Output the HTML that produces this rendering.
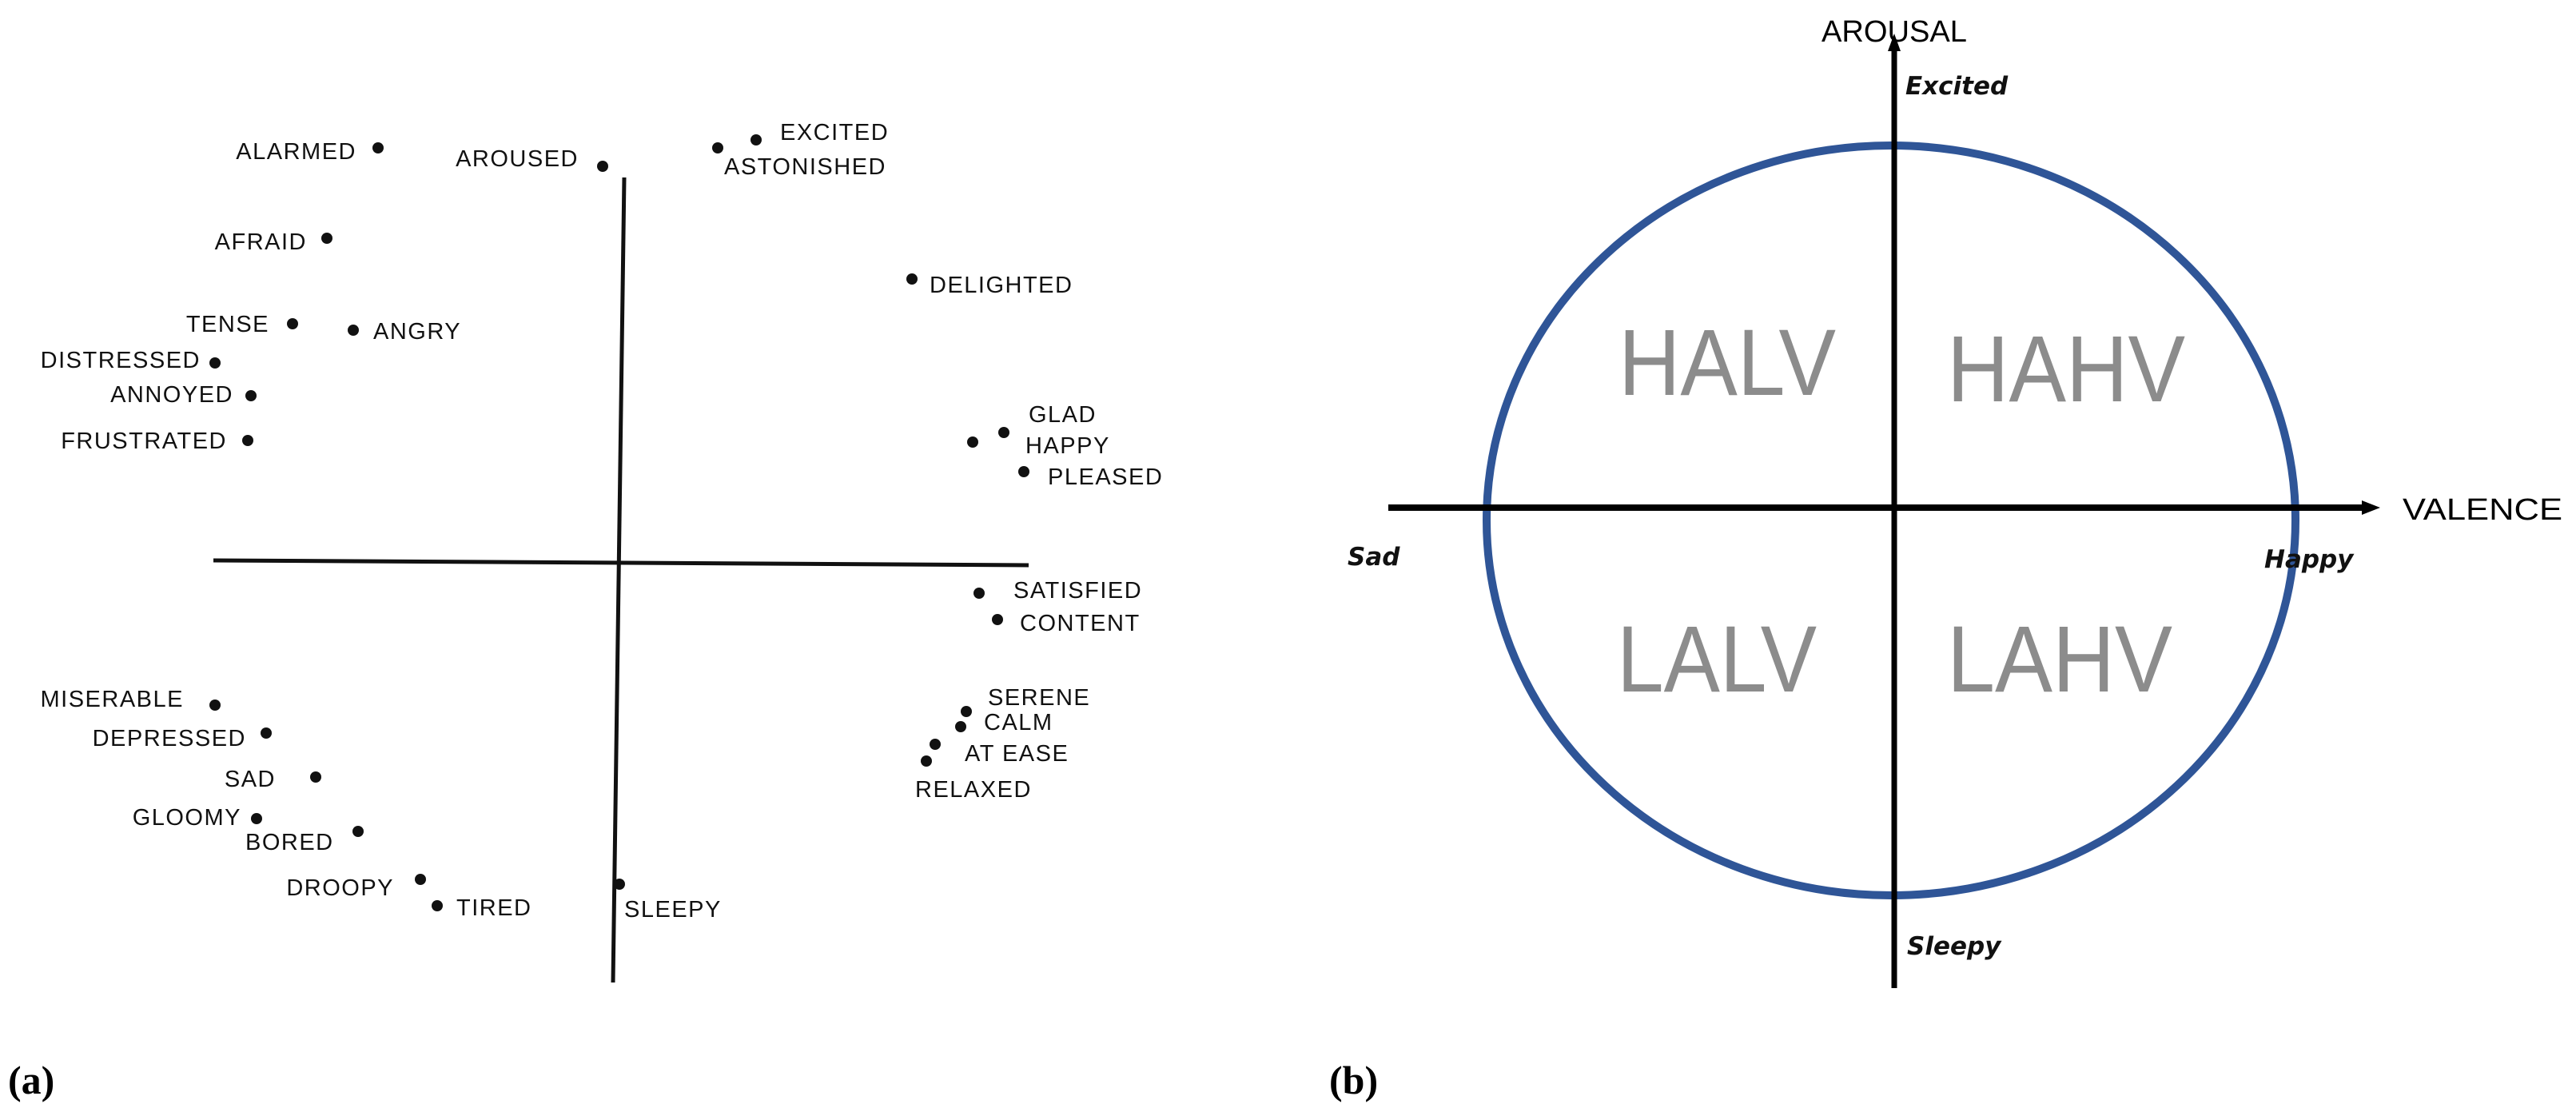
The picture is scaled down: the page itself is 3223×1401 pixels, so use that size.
<!DOCTYPE html>
<html><head><meta charset="utf-8"><style>
html,body{margin:0;padding:0;background:#fff;}
svg{display:block;}
.a{font-family:"Liberation Sans",sans-serif;font-size:29px;fill:#111;letter-spacing:1.5px;}
.q{font-family:"Liberation Sans",sans-serif;font-size:118px;fill:#8c8c8c;}
.ax{font-family:"Liberation Sans",sans-serif;font-size:38px;fill:#000;}
.it{font-family:"DejaVu Sans",sans-serif;font-size:31px;font-style:italic;font-weight:bold;fill:#111;}
.lab{font-family:"Liberation Serif",serif;font-size:50px;font-weight:bold;fill:#000;}
</style></head><body>
<svg width="3223" height="1401" viewBox="0 0 3223 1401" xmlns="http://www.w3.org/2000/svg">
<!-- Panel a -->
<line x1="267" y1="701" x2="1287" y2="707" stroke="#111" stroke-width="5"/>
<line x1="781" y1="222" x2="767" y2="1229" stroke="#111" stroke-width="5"/>
<g fill="#111">
<circle cx="473" cy="185" r="7"/><circle cx="754" cy="208" r="7"/>
<circle cx="946" cy="175" r="7"/><circle cx="898" cy="185" r="7"/>
<circle cx="409" cy="298" r="7"/><circle cx="1141" cy="349" r="7"/>
<circle cx="366" cy="405" r="7"/><circle cx="442" cy="413" r="7"/>
<circle cx="269" cy="454" r="7"/><circle cx="314" cy="495" r="7"/>
<circle cx="310" cy="551" r="7"/>
<circle cx="1256" cy="541" r="7"/><circle cx="1217" cy="553" r="7"/>
<circle cx="1281" cy="590" r="7"/>
<circle cx="1225" cy="742" r="7"/><circle cx="1248" cy="775" r="7"/>
<circle cx="269" cy="882" r="7"/><circle cx="333" cy="917" r="7"/>
<circle cx="395" cy="972" r="7"/><circle cx="321" cy="1024" r="7"/>
<circle cx="448" cy="1040" r="7"/>
<circle cx="1209" cy="890" r="7"/><circle cx="1202" cy="909" r="7"/>
<circle cx="1170" cy="931" r="7"/><circle cx="1159" cy="952" r="7"/>
<circle cx="526" cy="1100" r="7"/><circle cx="547" cy="1133" r="7"/>
<circle cx="775" cy="1106" r="7"/>
</g>
<g class="a">
<text x="446" y="199" text-anchor="end">ALARMED</text>
<text x="724" y="208" text-anchor="end">AROUSED</text>
<text x="976" y="175">EXCITED</text>
<text x="906" y="218">ASTONISHED</text>
<text x="384" y="312" text-anchor="end">AFRAID</text>
<text x="1163" y="366">DELIGHTED</text>
<text x="337" y="415" text-anchor="end">TENSE</text>
<text x="467" y="424">ANGRY</text>
<text x="251" y="460" text-anchor="end">DISTRESSED</text>
<text x="292" y="503" text-anchor="end">ANNOYED</text>
<text x="284" y="561" text-anchor="end">FRUSTRATED</text>
<text x="1287" y="528">GLAD</text>
<text x="1283" y="567">HAPPY</text>
<text x="1311" y="606">PLEASED</text>
<text x="1268" y="748">SATISFIED</text>
<text x="1276" y="789">CONTENT</text>
<text x="230" y="884" text-anchor="end">MISERABLE</text>
<text x="308" y="933" text-anchor="end">DEPRESSED</text>
<text x="345" y="984" text-anchor="end">SAD</text>
<text x="302" y="1032" text-anchor="end">GLOOMY</text>
<text x="307" y="1063">BORED</text>
<text x="1236" y="882">SERENE</text>
<text x="1231" y="913">CALM</text>
<text x="1207" y="952">AT EASE</text>
<text x="1145" y="997">RELAXED</text>
<text x="493" y="1120" text-anchor="end">DROOPY</text>
<text x="571" y="1145">TIRED</text>
<text x="781" y="1147">SLEEPY</text>
</g>
<text class="lab" x="10" y="1368">(a)</text>
<!-- Panel b -->
<ellipse cx="2366" cy="651" rx="506" ry="469" fill="none" stroke="#2f5597" stroke-width="10"/>
<line x1="2370" y1="62" x2="2370" y2="1236" stroke="#000" stroke-width="7"/>
<polygon points="2370,42 2362,64 2378,64" fill="#000"/>
<line x1="1737" y1="635" x2="2958" y2="635" stroke="#000" stroke-width="8"/>
<polygon points="2978,635 2955,626 2955,644" fill="#000"/>
<text class="ax" x="2370" y="52" text-anchor="middle" textLength="182" lengthAdjust="spacingAndGlyphs">AROUSAL</text>
<text class="ax" x="3006" y="650" textLength="200" lengthAdjust="spacingAndGlyphs">VALENCE</text>
<text class="it" x="2384" y="118">Excited</text>
<text class="it" x="1686" y="707">Sad</text>
<text class="it" x="2833" y="710">Happy</text>
<text class="it" x="2386" y="1194">Sleepy</text>
<text class="q" x="2025" y="494" textLength="272" lengthAdjust="spacingAndGlyphs">HALV</text>
<text class="q" x="2436" y="502" textLength="298" lengthAdjust="spacingAndGlyphs">HAHV</text>
<text class="q" x="2023" y="865" textLength="250" lengthAdjust="spacingAndGlyphs">LALV</text>
<text class="q" x="2436" y="865" textLength="282" lengthAdjust="spacingAndGlyphs">LAHV</text>
<text class="lab" x="1663" y="1368">(b)</text>
</svg>
</body></html>
